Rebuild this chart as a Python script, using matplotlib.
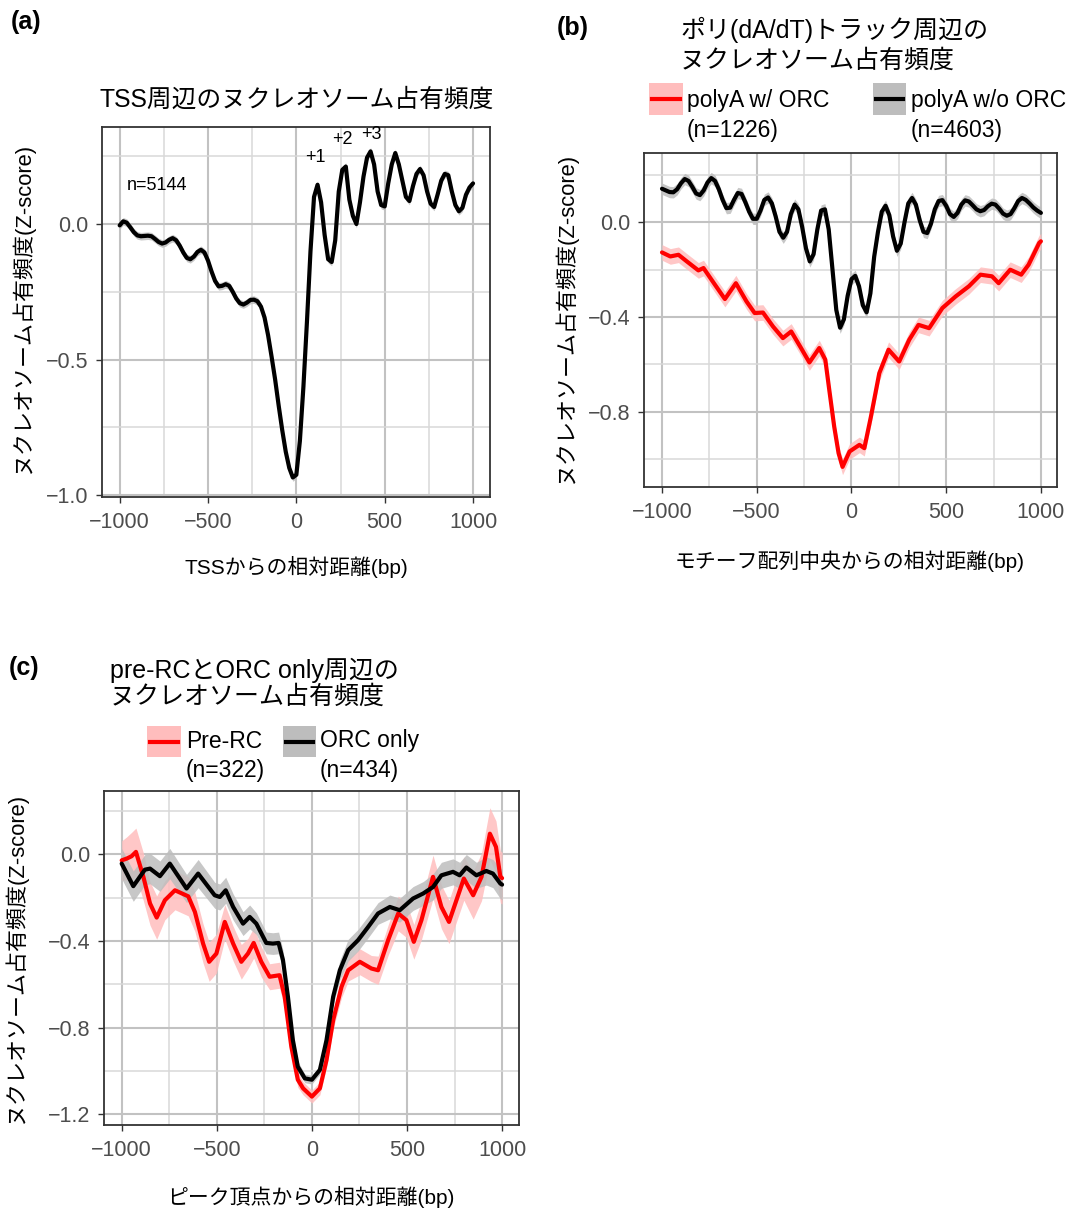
import matplotlib
matplotlib.use('Agg')
import matplotlib.pyplot as plt
from matplotlib.patches import Rectangle
from matplotlib.lines import Line2D
from matplotlib.ticker import MultipleLocator, FuncFormatter
import numpy as np

plt.rcParams['font.family'] = ['Liberation Sans', 'Noto Sans CJK JP']

W, H = 1075, 1212

# (a) TSS周辺 - 20bp間隔
x_a = np.arange(-1000, 1001, 20)
y_a = [-0.005, 0.01, 0.005, -0.012, -0.03, -0.042, -0.045, -0.044, -0.043, -0.045,
       -0.055, -0.066, -0.072, -0.068, -0.058, -0.052, -0.06, -0.08, -0.105, -0.125,
       -0.13, -0.12, -0.103, -0.095, -0.105, -0.135, -0.175, -0.21, -0.23, -0.228,
       -0.222, -0.228, -0.25, -0.275, -0.292, -0.297, -0.29, -0.28, -0.279, -0.285,
       -0.305, -0.345, -0.41, -0.49, -0.574, -0.67, -0.76, -0.84, -0.9, -0.935,
       -0.925, -0.8, -0.6, -0.36, -0.1, 0.1, 0.145, 0.08, -0.04, -0.13,
       -0.14, -0.06, 0.12, 0.2, 0.212, 0.09, 0.03, 0.0, 0.08, 0.175,
       0.245, 0.268, 0.22, 0.12, 0.07, 0.065, 0.15, 0.22, 0.262, 0.22,
       0.16, 0.1, 0.085, 0.14, 0.185, 0.203, 0.18, 0.12, 0.075, 0.063,
       0.11, 0.16, 0.185, 0.18, 0.12, 0.07, 0.047, 0.06, 0.108, 0.135,
       0.15]
se_a = 0.014

# (b) polyA w/o ORC (黒) - 20bp間隔
x_b_black = np.arange(-1000, 1001, 20)
y_b_black = [0.142, 0.135, 0.128, 0.127, 0.14, 0.165, 0.183, 0.175, 0.15, 0.122,
             0.115, 0.135, 0.168, 0.187, 0.175, 0.14, 0.095, 0.06, 0.062, 0.095,
             0.124, 0.12, 0.085, 0.045, 0.015, 0.015, 0.05, 0.095, 0.105, 0.08,
             0.025, -0.04, -0.065, -0.04, 0.035, 0.075, 0.055, -0.02, -0.11, -0.165,
             -0.135, -0.03, 0.05, 0.055, -0.03, -0.2, -0.37, -0.445, -0.41, -0.31,
             -0.24, -0.226, -0.27, -0.35, -0.38, -0.3, -0.145, -0.04, 0.045, 0.07,
             0.03, -0.06, -0.12, -0.09, 0.0, 0.08, 0.103, 0.075, 0.01, -0.04,
             -0.045, -0.005, 0.055, 0.09, 0.094, 0.07, 0.035, 0.023, 0.04, 0.075,
             0.093, 0.088, 0.072, 0.055, 0.047, 0.052, 0.068, 0.079, 0.075, 0.058,
             0.037, 0.028, 0.035, 0.06, 0.09, 0.103, 0.095, 0.08, 0.063, 0.05,
             0.04]
se_b_black = 0.024

# (b) polyA w/ ORC (赤)
x_b_red = [-1000, -956, -913, -869, -808, -781, -720, -668, -610, -554,
           -511, -467, -414, -362, -318, -266, -222, -170, -138, -117,
           -91, -68, -47, -10, 42, 68, 103, 147, 196, 252,
           305, 354, 410, 480, 550, 620, 681, 742, 777, 838,
           896, 935, 991, 1000]
y_b_red = [-0.127, -0.144, -0.137, -0.165, -0.203, -0.193, -0.264, -0.324, -0.257, -0.334,
           -0.383, -0.381, -0.44, -0.489, -0.461, -0.531, -0.592, -0.531, -0.58, -0.708,
           -0.863, -0.975, -1.033, -0.968, -0.94, -0.954, -0.82, -0.637, -0.538, -0.588,
           -0.496, -0.433, -0.447, -0.362, -0.313, -0.27, -0.221, -0.228, -0.257, -0.2,
           -0.221, -0.179, -0.087, -0.08]
se_b_red = 0.033

# (c) Pre-RC (赤)
x_c_red = [-1000, -974, -948, -925, -886, -851, -816, -773, -720, -650,
           -615, -572, -540, -502, -458, -414, -371, -336, -306, -266,
           -222, -170, -143, -108, -74, -46, 0, 42, 77, 112,
           156, 191, 252, 313, 348, 401, 454, 497, 536, 576,
           637, 681, 721, 760, 799, 848, 892, 936, 968, 991,
           1000]
y_c_red = [-0.028, -0.02, -0.009, 0.011, -0.104, -0.227, -0.292, -0.212, -0.166, -0.194,
           -0.266, -0.412, -0.496, -0.458, -0.312, -0.412, -0.496, -0.458, -0.409, -0.496,
           -0.565, -0.558, -0.657, -0.888, -1.04, -1.08, -1.118, -1.08, -0.949, -0.765,
           -0.611, -0.535, -0.496, -0.527, -0.535, -0.396, -0.273, -0.304, -0.404, -0.304,
           -0.104, -0.243, -0.312, -0.212, -0.112, -0.189, -0.104, 0.095, 0.034, -0.104,
           -0.11]
se_c_red = [0.09, 0.1, 0.11, 0.11, 0.11, 0.1, 0.1, 0.09, 0.09, 0.09,
            0.09, 0.09, 0.09, 0.09, 0.08, 0.08, 0.08, 0.07, 0.07, 0.07,
            0.06, 0.06, 0.05, 0.04, 0.035, 0.03, 0.03, 0.03, 0.035, 0.04,
            0.05, 0.05, 0.06, 0.06, 0.065, 0.07, 0.08, 0.08, 0.08, 0.09,
            0.1, 0.1, 0.1, 0.1, 0.1, 0.11, 0.11, 0.12, 0.12, 0.12,
            0.12]

# (c) ORC only (黒)
x_c_black = [-1000, -939, -878, -851, -799, -747, -659, -598, -511, -484,
             -453, -414, -362, -327, -292, -240, -205, -175, -152, -126,
             -100, -74, -37, 0, 42, 77, 112, 147, 191, 243,
             296, 348, 410, 462, 532, 585, 637, 681, 742, 777,
             812, 865, 917, 952, 991, 1000]
y_c_black = [-0.043, -0.147, -0.071, -0.066, -0.101, -0.043, -0.158, -0.089, -0.189, -0.197,
             -0.166, -0.243, -0.32, -0.289, -0.32, -0.409, -0.412, -0.409, -0.488, -0.657,
             -0.857, -0.98, -1.034, -1.04, -0.995, -0.857, -0.657, -0.535, -0.442, -0.396,
             -0.335, -0.273, -0.243, -0.258, -0.204, -0.181, -0.151, -0.097, -0.081, -0.097,
             -0.061, -0.097, -0.077, -0.089, -0.135, -0.14]
se_c_black = [0.07, 0.07, 0.07, 0.07, 0.07, 0.07, 0.065, 0.065, 0.06, 0.06,
              0.06, 0.06, 0.055, 0.055, 0.05, 0.05, 0.05, 0.05, 0.045, 0.04,
              0.03, 0.025, 0.02, 0.02, 0.02, 0.025, 0.035, 0.045, 0.05, 0.05,
              0.05, 0.05, 0.055, 0.055, 0.055, 0.055, 0.06, 0.06, 0.06, 0.06,
              0.06, 0.06, 0.065, 0.065, 0.07, 0.07]

x_ticks = [-1000, -500, 0, 500, 1000]
peak_labels = ['+1', '+2', '+3']
peak_pos = [(105, 0.245), (263, 0.312), (422, 0.332)]

RED = '#ff0000'
RED_FILL = '#ffbdbd'
GREY_FILL = '#bdbdbd'
TICK_COL = '#4d4d4d'
LW = 3.0


def fx(x):
    return x / W


def fy(y):
    return 1 - y / H


def make_ax(fig, l, t, r, b):
    return fig.add_axes([fx(l), fy(b), (r - l) / W, (b - t) / H])


def minus_fmt(fmt):
    return FuncFormatter(lambda v, p: (fmt % v).replace('-', '\u2212'))


def style(ax, xlim, ylim, ymaj, ymin):
    ax.set_xlim(*xlim)
    ax.set_ylim(*ylim)
    ax.set_xticks(x_ticks)
    ax.xaxis.set_minor_locator(MultipleLocator(250))
    ax.yaxis.set_major_locator(MultipleLocator(ymaj))
    ax.yaxis.set_minor_locator(MultipleLocator(ymin))
    ax.xaxis.set_major_formatter(minus_fmt('%d'))
    ax.yaxis.set_major_formatter(minus_fmt('%.1f'))
    ax.grid(which='major', color='#c2c2c2', lw=1.5)
    ax.grid(which='minor', color='#d8d8d8', lw=1.1)
    ax.set_axisbelow(True)
    for s in ax.spines.values():
        s.set_color('#333333')
        s.set_linewidth(1.3)
    ax.tick_params(which='major', length=4, width=1.0, color='#333333',
                   labelcolor=TICK_COL, labelsize=15.5, pad=6)
    ax.tick_params(axis='x', which='major', pad=7)
    ax.tick_params(which='minor', length=0)


def band(ax, x, y, se, fill):
    x = np.asarray(x)
    y = np.asarray(y)
    se = np.asarray(se)
    ax.fill_between(x, y - se, y + se, color=fill, lw=0, alpha=0.85)


def curve(ax, x, y, col):
    ax.plot(x, y, color=col, lw=LW, solid_joinstyle='round', solid_capstyle='round')


def legend_key(fig, l, t, r, b, fill, col):
    fig.add_artist(Rectangle((fx(l), fy(b)), (r - l) / W, (b - t) / H,
                             transform=fig.transFigure, facecolor=fill, edgecolor='none'))
    ym = fy((t + b) / 2)
    fig.add_artist(Line2D([fx(l + 3), fx(r - 3)], [ym, ym], transform=fig.transFigure,
                          color=col, lw=LW))


fig = plt.figure(figsize=(W / 100, H / 100), dpi=100)

# ---- (a)
ax = make_ax(fig, 102, 127, 490, 497)
band(ax, x_a, y_a, se_a, GREY_FILL)
curve(ax, x_a, y_a, 'black')
style(ax, (-1100, 1096), (-1.007, 0.358), 0.5, 0.25)
ax.text(-790, 0.144, 'n=5144', fontsize=13, ha='center', va='center')
for lab, (px, py) in zip(peak_labels, peak_pos):
    ax.text(px, py, lab, fontsize=13, ha='center', va='center')
fig.text(fx(26), fy(22), '(a)', fontsize=18, fontweight='bold', ha='center', va='center')
fig.text(fx(297), fy(100), 'TSS周辺のヌクレオソーム占有頻度', fontsize=17.8, ha='center', va='center')
fig.text(fx(296), fy(567), 'TSSからの相対距離(bp)', fontsize=15, ha='center', va='center')
fig.text(fx(22), fy(308), 'ヌクレオソーム占有頻度(Z-score)', fontsize=15.8,
         rotation=90, ha='center', va='center')

# ---- (b)
ax = make_ax(fig, 644, 153, 1057, 487)
band(ax, x_b_red, y_b_red, se_b_red, RED_FILL)
band(ax, x_b_black, y_b_black, se_b_black, GREY_FILL)
curve(ax, x_b_red, y_b_red, RED)
curve(ax, x_b_black, y_b_black, 'black')
style(ax, (-1095, 1085), (-1.118, 0.293), 0.4, 0.2)
fig.text(fx(573), fy(28), '(b)', fontsize=18, fontweight='bold', ha='center', va='center')
fig.text(fx(680), fy(30), 'ポリ(dA/dT)トラック周辺の', fontsize=18, ha='left', va='center')
fig.text(fx(680), fy(61), 'ヌクレオソーム占有頻度', fontsize=18, ha='left', va='center')
legend_key(fig, 649, 83, 683, 115, RED_FILL, RED)
legend_key(fig, 873, 83, 906, 115, GREY_FILL, 'black')
fig.text(fx(687), fy(100), 'polyA w/ ORC', fontsize=16.5, ha='left', va='center')
fig.text(fx(687), fy(130), '(n=1226)', fontsize=16.5, ha='left', va='center')
fig.text(fx(911), fy(100), 'polyA w/o ORC', fontsize=16.5, ha='left', va='center')
fig.text(fx(911), fy(130), '(n=4603)', fontsize=16.5, ha='left', va='center')
fig.text(fx(850), fy(561), 'モチーフ配列中央からの相対距離(bp)', fontsize=15, ha='center', va='center')
fig.text(fx(565), fy(318), 'ヌクレオソーム占有頻度(Z-score)', fontsize=15.8,
         rotation=90, ha='center', va='center')

# ---- (c)
ax = make_ax(fig, 104, 791, 519, 1125)
band(ax, x_c_red, y_c_red, se_c_red, RED_FILL)
band(ax, x_c_black, y_c_black, se_c_black, GREY_FILL)
curve(ax, x_c_red, y_c_red, RED)
curve(ax, x_c_black, y_c_black, 'black')
style(ax, (-1093, 1089), (-1.249, 0.292), 0.4, 0.2)
fig.text(fx(24), fy(668), '(c)', fontsize=18, fontweight='bold', ha='center', va='center')
fig.text(fx(110), fy(670), 'pre-RCとORC only周辺の', fontsize=18, ha='left', va='center')
fig.text(fx(110), fy(697), 'ヌクレオソーム占有頻度', fontsize=18, ha='left', va='center')
legend_key(fig, 147, 726, 181, 757, RED_FILL, RED)
legend_key(fig, 283, 726, 316, 757, GREY_FILL, 'black')
fig.text(fx(186), fy(741), 'Pre-RC', fontsize=16.5, ha='left', va='center')
fig.text(fx(186), fy(771), '(n=322)', fontsize=16.5, ha='left', va='center')
fig.text(fx(320), fy(741), 'ORC only', fontsize=16.5, ha='left', va='center')
fig.text(fx(320), fy(771), '(n=434)', fontsize=16.5, ha='left', va='center')
fig.text(fx(311), fy(1197), 'ピーク頂点からの相対距離(bp)', fontsize=15, ha='center', va='center')
fig.text(fx(15), fy(958), 'ヌクレオソーム占有頻度(Z-score)', fontsize=15.8,
         rotation=90, ha='center', va='center')

fig.savefig('out.png', dpi=100, facecolor='white')
